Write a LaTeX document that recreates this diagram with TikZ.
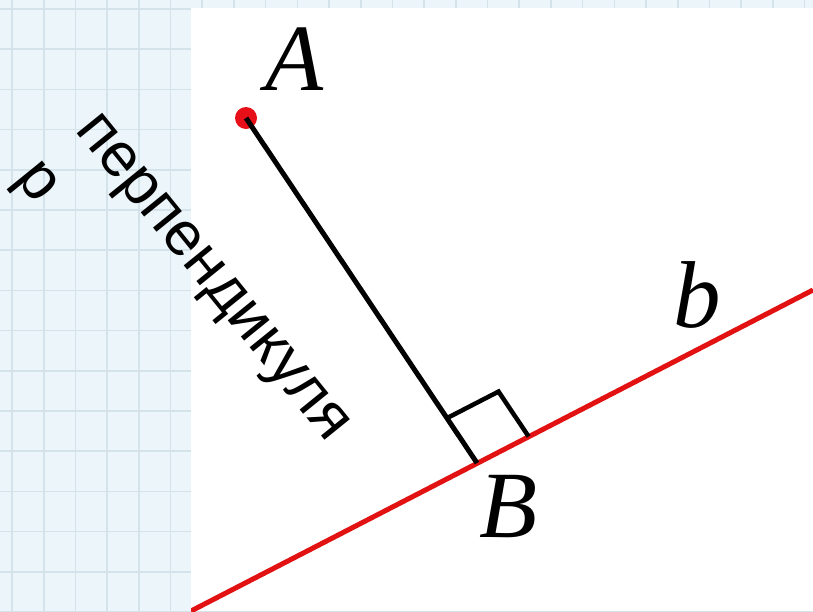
\documentclass[tikz,border=0pt]{standalone}
\usepackage{fontspec}
\setmainfont{Liberation Serif}
\newfontfamily\rufont{Liberation Sans}
\usetikzlibrary{calc}
\definecolor{gridbg}{RGB}{236,245,249}
\definecolor{gridline}{RGB}{212,227,233}
\definecolor{lineb}{RGB}{226,18,18}
\definecolor{dotred}{RGB}{232,16,24}
\begin{document}
\begin{tikzpicture}[x=1pt,y=-1pt,
  gridrule/.style={draw=gridline,line width=1.6pt},
  redline/.style={draw=lineb,line width=5pt},
  blackline/.style={draw=black,line width=5pt},
  anglemark/.style={draw=black,line width=4.5pt,line join=miter},
  lab/.style={inner sep=0pt,font=\fontsize{95}{95}\selectfont\itshape},
  rutext/.style={inner sep=0pt,font=\rufont\fontsize{62}{62}\selectfont,anchor=base west,rotate=-51}]
\useasboundingbox (0,0) rectangle (813,611);
% background grid
\fill[gridbg] (0,0) rectangle (813,611);
\foreach \i in {0,...,25} \draw[gridrule] ({12+31.7*\i},0) -- ({12+31.7*\i},611);
\foreach \j in {0,...,15} \draw[gridrule] (0,{9+40.2*\j}) -- (813,{9+40.2*\j});
\fill[white] (191,8) rectangle (813,611);
% geometry
\coordinate (A) at (246,118);
\coordinate (B) at (477,463);
\coordinate (bL) at (191,611);
\coordinate (bR) at (813,290);
\begin{scope}
\clip (191,8) rectangle (813,611);
\draw[redline] (bL) -- (bR);
\end{scope}
\fill[dotred] (A) circle (11);
\draw[blackline] (A) -- (B);
\coordinate (P1) at ($(B)!54pt!(A)$);
\coordinate (P2) at ($(B)!58pt!(bR)$);
\coordinate (Q) at ($(P1)+(P2)-(B)$);
\draw[anglemark] (P1) -- (Q) -- (P2);
% labels
\node[lab,anchor=base] (LA) at (295,90) {A};
\node[lab,anchor=base] (LB) at (509,537) {B};
\node[lab,anchor=base] (Lb) at (697,327) {b};
\node[rutext] (t1) at (74,130) {перпендикуля};
\node[rutext] (t2) at (14,178) {р};
\end{tikzpicture}
\end{document}
